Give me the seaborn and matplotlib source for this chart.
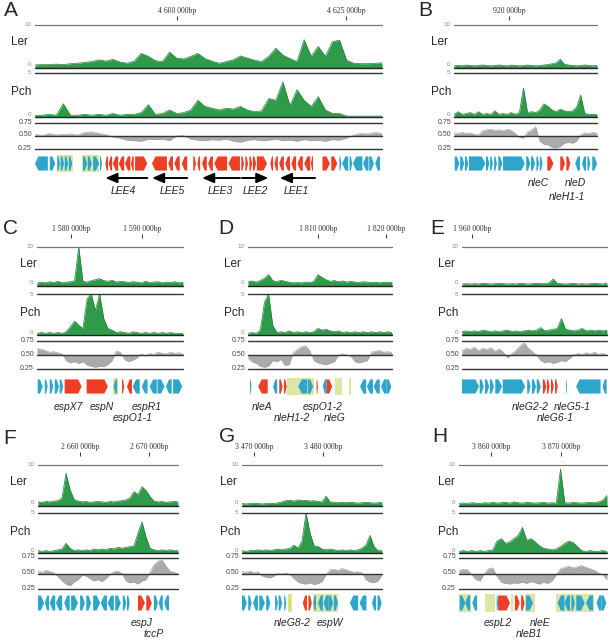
import numpy as np
import matplotlib
matplotlib.use('Agg')
import matplotlib.pyplot as plt
from matplotlib.patches import Polygon, Rectangle
from matplotlib.transforms import blended_transform_factory
import seaborn as sns

sns.set_style('white')
plt.rcParams['font.family'] = ['Liberation Sans', 'DejaVu Sans']

# ---------------- data (x in kb) ----------------
A_RANGE = (4579.0, 4630.3)
A_TICKS = [4600, 4625]
A_LER = [0.7, 0.8, 0.8, 0.9, 0.8, 1.0, 1.1, 1.3, 1.5, 1.9,
         1.6, 2.0, 1.4, 1.1, 1.6, 3.4, 2.7, 1.7, 1.5, 3.7,
         2.3, 2.1, 2.7, 3.4, 2.2, 1.6, 1.1, 1.5, 1.9, 2.8,
         2.3, 1.8, 1.5, 2.7, 4.6, 3.0, 2.2, 1.5, 6.6, 2.7,
         5.0, 2.7, 6.1, 6.5, 1.8, 1.1, 1.0, 1.0, 1.1, 1.2]
A_PCH = [0.2, 0.2, 0.3, 0.2, 1.5, 0.2, 0.2, 0.3, 0.2, 0.3,
         0.2, 0.4, 0.2, 0.3, 0.3, 0.5, 1.4, 0.3, 0.4, 0.8,
         0.4, 0.5, 0.8, 1.9, 1.2, 1.0, 0.8, 1.0, 0.9, 1.2,
         0.8, 0.6, 0.7, 2.1, 1.9, 4.0, 1.3, 3.1, 1.9, 1.2,
         2.3, 0.8, 0.4, 0.4, 0.1, 0.1, 0.1, 0.1, 0.1, 0.1]
A_GC = [0.53, 0.51, 0.55, 0.52, 0.53, 0.54, 0.52, 0.57, 0.58, 0.55,
        0.53, 0.48, 0.46, 0.42, 0.41, 0.40, 0.44, 0.43, 0.44, 0.41,
        0.50, 0.51, 0.44, 0.42, 0.41, 0.43, 0.42, 0.44, 0.40, 0.38,
        0.42, 0.43, 0.41, 0.42, 0.44, 0.41, 0.42, 0.40, 0.43, 0.41,
        0.42, 0.40, 0.43, 0.42, 0.46, 0.52, 0.55, 0.54, 0.57, 0.55]
A_GENES = [
    (4579.0, 4580.9, -1, 'b'), (4581.2, 4582.0, 1, 'b'),
    (4582.3, 4582.7, 1, 'b'), (4582.8, 4583.3, 1, 'b'), (4583.4, 4583.9, 1, 'b'), (4584.0, 4584.5, 1, 'b'),
    (4586.1, 4586.7, 1, 'b'), (4586.8, 4587.4, 1, 'b'), (4587.6, 4588.5, 1, 'b'), (4588.6, 4588.9, 1, 'b'),
    (4589.4, 4589.8, -1, 'r'), (4589.9, 4590.4, -1, 'r'), (4590.5, 4591.3, -1, 'r'), (4591.4, 4592.2, -1, 'r'),
    (4592.3, 4593.1, -1, 'r'), (4593.2, 4593.6, -1, 'r'), (4593.8, 4595.6, 1, 'r'),
    (4596.3, 4598.5, -1, 'r'), (4598.7, 4599.4, -1, 'r'), (4599.6, 4600.4, -1, 'r'), (4600.7, 4601.5, -1, 'r'),
    (4602.4, 4602.8, 1, 'r'), (4603.0, 4603.4, -1, 'r'), (4603.7, 4604.4, -1, 'r'), (4604.6, 4605.3, -1, 'r'),
    (4605.5, 4607.4, -1, 'r'), (4607.6, 4609.3, -1, 'r'),
    (4609.5, 4609.9, 1, 'r'), (4610.1, 4610.5, 1, 'r'), (4610.7, 4611.1, 1, 'r'), (4611.2, 4611.7, 1, 'r'),
    (4611.8, 4613.3, 1, 'r'),
    (4613.8, 4614.2, -1, 'r'), (4614.4, 4614.9, -1, 'r'), (4615.1, 4615.8, -1, 'r'), (4616.0, 4616.7, -1, 'r'),
    (4616.9, 4617.6, -1, 'r'), (4617.8, 4618.6, -1, 'r'), (4618.8, 4619.7, -1, 'r'), (4619.8, 4620.1, -1, 'r'),
    (4621.5, 4622.6, 1, 'r'), (4622.8, 4623.7, 1, 'r'),
    (4624.0, 4624.3, 1, 'b'), (4624.4, 4625.3, -1, 'b'), (4625.5, 4625.9, 1, 'b'), (4626.0, 4627.4, -1, 'b'),
    (4627.5, 4628.3, -1, 'b'), (4628.4, 4629.1, 1, 'b'), (4629.3, 4630.0, -1, 'b')]
A_BOXES = [(4582.2, 4584.6), (4586.0, 4588.5)]
A_LABELS = []
# operon arrows: name, tail, head
A_OPERONS = [('LEE4', 4595.6, 4589.4), ('LEE5', 4601.5, 4596.3), ('LEE3', 4609.3, 4603.7),
             ('LEE2', 4609.6, 4613.5), ('LEE1', 4620.4, 4615.2)]
A_OPERON_LABELS = [4592.0, 4599.3, 4606.4, 4611.5, 4617.6]

B_RANGE = (911.9, 932.9)
B_TICKS = [920]
B_LER = [0.5, 0.6, 0.5, 0.7, 0.6, 0.5, 0.6, 0.7, 0.6, 0.5, 0.6, 0.7, 0.6, 0.5, 0.7, 0.6, 0.5, 0.6,
         0.7, 0.6, 0.5, 0.6, 0.7, 0.8, 1.0, 1.2, 2.0, 0.9, 0.7, 0.6, 0.5, 0.6, 0.7, 0.6, 0.5, 0.6]
B_PCH = [0.3, 0.6, 0.3, 0.4, 0.5, 0.3, 0.6, 0.3, 0.4, 0.3, 0.7, 0.3, 0.4, 0.3, 0.5, 0.3, 0.5, 3.3,
         0.5, 0.6, 0.5, 0.8, 1.5, 1.2, 0.8, 0.6, 0.9, 0.7, 0.6, 0.7, 1.1, 2.5, 0.4, 0.3, 0.3, 0.3]
B_GC = [0.56, 0.55, 0.57, 0.55, 0.56, 0.53, 0.52, 0.60, 0.62, 0.63, 0.61, 0.62, 0.60, 0.63, 0.61, 0.55, 0.47, 0.46,
        0.58, 0.62, 0.68, 0.40, 0.34, 0.33, 0.28, 0.27, 0.30, 0.36, 0.38, 0.36, 0.40, 0.52, 0.56, 0.55, 0.57, 0.55]
B_GENES = [(912.0, 912.7, 1, 'b'), (912.8, 913.4, 1, 'b'), (913.5, 914.0, 1, 'b'), (914.1, 916.5, 1, 'b'),
           (916.6, 917.1, 1, 'b'), (917.2, 917.6, 1, 'b'), (917.8, 918.2, 1, 'b'), (918.4, 919.0, 1, 'b'),
           (919.1, 922.3, 1, 'b'), (922.5, 923.1, 1, 'b'), (923.2, 923.8, 1, 'b'), (924.0, 924.4, 1, 'b'),
           (924.5, 924.9, 1, 'b'), (925.6, 926.5, 1, 'r'), (927.5, 928.2, 1, 'r'), (928.4, 929.0, 1, 'r'),
           (929.7, 930.4, -1, 'b'), (930.7, 931.3, -1, 'b'), (931.5, 931.9, 1, 'b'), (932.2, 932.9, 1, 'b')]
B_BOXES = []
B_LABELS = [('nleC', 924.3, 0), ('nleD', 929.7, 0), ('nleH1-1', 928.5, 1)]

C_RANGE = (1575.2, 1595.8)
C_TICKS = [1580, 1590]
C_LER = [0.7, 1.0, 0.8, 1.1, 0.9, 1.2, 0.8, 1.0, 1.1, 1.3, 10.0, 1.2, 1.0, 1.4, 1.6, 1.9, 1.4, 1.2,
         1.5, 1.0, 1.2, 1.1, 0.9, 1.1, 1.0, 0.8, 1.2, 0.9, 1.0, 1.1, 0.8, 1.0, 0.9, 1.1, 0.8, 1.0]
C_PCH = [0.2, 0.3, 0.2, 0.3, 0.2, 0.3, 0.2, 0.4, 1.0, 1.7, 1.2, 0.8, 4.4, 5.0, 3.0, 5.0, 2.0, 0.8,
         0.6, 0.3, 0.4, 0.3, 0.2, 0.4, 0.3, 0.2, 0.3, 0.2, 0.3, 0.2, 0.3, 0.2, 0.3, 0.2, 0.2, 0.2]
C_GC = [0.62, 0.60, 0.58, 0.55, 0.56, 0.54, 0.52, 0.40, 0.36, 0.38, 0.35, 0.38, 0.32, 0.30, 0.28, 0.30, 0.29, 0.33,
        0.40, 0.57, 0.55, 0.42, 0.38, 0.41, 0.45, 0.52, 0.48, 0.53, 0.51, 0.55, 0.53, 0.52, 0.55, 0.53, 0.54, 0.52]
C_GENES = [(1575.3, 1576.0, 1, 'b'), (1576.3, 1576.7, 1, 'b'), (1577.0, 1577.5, 1, 'b'), (1577.7, 1578.3, 1, 'b'),
           (1578.4, 1578.9, 1, 'b'), (1579.1, 1581.5, 1, 'r'), (1582.2, 1585.2, 1, 'r'), (1586.0, 1586.5, -1, 'b'),
           (1587.2, 1587.5, 1, 'r'), (1587.9, 1588.6, -1, 'r'), (1588.7, 1589.7, -1, 'b'), (1590.0, 1590.8, -1, 'b'),
           (1591.1, 1592.1, -1, 'b'), (1592.2, 1593.2, 1, 'b'), (1593.4, 1594.2, -1, 'b'), (1594.4, 1595.7, 1, 'b')]
C_BOXES = [(1585.9, 1586.6)]
C_LABELS = [('espX7', 1579.6, 0), ('espN', 1584.4, 0), ('espR1', 1590.7, 0), ('espO1-1', 1588.7, 1)]

D_RANGE = (1799.7, 1820.9)
D_TICKS = [1810, 1820]
D_LER = [1.1, 1.3, 1.0, 1.4, 2.0, 2.9, 1.4, 1.1, 1.5, 1.2, 1.0, 0.8, 0.9, 0.8, 1.0, 0.9, 1.2, 2.9,
         2.2, 1.6, 1.2, 1.4, 1.1, 1.3, 1.0, 1.2, 1.0, 0.9, 1.1, 1.0, 0.9, 1.0, 0.8, 1.0, 0.9, 1.0]
D_PCH = [0.2, 0.3, 0.2, 0.6, 4.0, 5.0, 1.2, 0.3, 0.4, 0.3, 0.5, 0.3, 0.4, 0.3, 0.4, 0.3, 0.4, 0.8,
         0.6, 0.7, 0.5, 0.4, 0.5, 0.3, 0.4, 0.3, 0.4, 0.3, 0.4, 0.3, 0.4, 0.3, 0.4, 0.3, 0.4, 0.3]
D_GC = [0.45, 0.38, 0.35, 0.30, 0.28, 0.30, 0.40, 0.38, 0.42, 0.31, 0.33, 0.54, 0.60, 0.65, 0.66, 0.58, 0.40, 0.36,
        0.34, 0.33, 0.35, 0.38, 0.50, 0.52, 0.50, 0.48, 0.38, 0.36, 0.38, 0.40, 0.55, 0.57, 0.58, 0.55, 0.56, 0.54]
D_GENES = [(1800.0, 1800.2, 1, 'b'), (1801.2, 1802.6, -1, 'r'), (1803.4, 1804.0, -1, 'b'), (1804.3, 1804.8, 1, 'r'),
           (1805.0, 1805.4, 1, 'r'), (1807.1, 1808.4, -1, 'b'), (1808.5, 1809.3, 1, 'b'), (1809.8, 1810.0, 1, 'r'),
           (1810.7, 1811.3, -1, 'b'), (1811.3, 1812.1, 1, 'r'), (1816.2, 1817.1, -1, 'b'), (1817.2, 1818.1, -1, 'b'),
           (1818.2, 1819.1, -1, 'b'), (1819.3, 1820.1, -1, 'b'), (1820.1, 1820.8, 1, 'b')]
D_BOXES = [(1805.5, 1809.4), (1812.5, 1813.5), (1814.6, 1814.9)]
D_LABELS = [('nleA', 1801.8, 0), ('espO1-2', 1810.7, 0), ('nleH1-2', 1806.2, 1), ('nleG', 1812.5, 1)]

E_RANGE = (1958.5, 1979.85)
E_TICKS = [1960]
E_LER = [0.5, 0.6, 0.5, 0.6, 0.5, 0.7, 0.6, 0.5, 0.6, 0.7, 0.6, 0.5, 0.6, 0.5, 0.7, 0.6, 0.5, 0.6,
         0.7, 0.6, 0.6, 0.8, 1.8, 0.7, 0.6, 0.5, 0.6, 0.7, 0.5, 0.6, 0.5, 0.6, 0.7, 0.6, 0.5, 0.8]
E_PCH = [0.4, 0.5, 0.4, 0.5, 0.4, 0.6, 0.5, 0.4, 0.5, 0.4, 0.5, 0.6, 0.4, 0.5, 0.4, 0.5, 0.6, 0.5,
         0.6, 0.9, 0.5, 0.6, 0.7, 0.8, 2.0, 0.7, 0.6, 0.5, 0.6, 0.8, 0.5, 0.6, 0.5, 0.6, 0.5, 0.6]
E_GC = [0.58, 0.62, 0.60, 0.64, 0.58, 0.62, 0.60, 0.63, 0.57, 0.61, 0.55, 0.45, 0.52, 0.58, 0.66, 0.72, 0.62, 0.56,
        0.50, 0.40, 0.36, 0.38, 0.35, 0.37, 0.40, 0.38, 0.44, 0.50, 0.53, 0.51, 0.54, 0.52, 0.55, 0.51, 0.53, 0.50]
E_GENES = [(1958.5, 1961.0, 1, 'b'), (1961.1, 1961.7, 1, 'b'), (1961.9, 1962.5, 1, 'b'), (1962.6, 1963.2, 1, 'b'),
           (1963.4, 1964.4, 1, 'b'), (1964.5, 1967.8, 1, 'b'), (1968.1, 1968.6, 1, 'b'), (1968.8, 1969.4, 1, 'b'),
           (1969.5, 1970.1, 1, 'b'), (1970.4, 1970.9, 1, 'r'), (1971.0, 1971.4, 1, 'r'), (1971.6, 1972.0, 1, 'r'),
           (1972.2, 1972.6, 1, 'r'), (1973.8, 1973.95, 1, 'b'), (1975.3, 1978.9, -1, 'b'), (1979.2, 1979.8, -1, 'b')]
E_BOXES = []
E_LABELS = [('nleG2-2', 1968.6, 0), ('nleG5-1', 1974.7, 0), ('nleG6-1', 1972.3, 1)]

F_RANGE = (2653.9, 2674.2)
F_TICKS = [2660, 2670]
F_LER = [1.0, 0.9, 1.1, 1.0, 1.2, 1.3, 2.0, 8.0, 4.0, 1.6, 1.2, 1.0, 1.1, 0.9, 1.0, 1.1, 1.0, 0.9,
         1.1, 1.0, 1.2, 1.3, 1.5, 2.0, 3.5, 2.8, 4.7, 3.8, 2.3, 1.2, 1.0, 1.1, 0.9, 1.0, 1.1, 1.0]
F_PCH = [0.3, 0.2, 0.3, 0.2, 0.3, 0.4, 0.5, 1.2, 0.6, 0.3, 0.4, 0.3, 0.4, 0.3, 0.5, 0.4, 0.5, 0.4,
         0.6, 0.5, 0.7, 0.6, 0.7, 0.8, 0.9, 2.5, 3.9, 2.0, 0.6, 0.4, 0.3, 0.4, 0.3, 0.4, 0.3, 0.3]
F_GC = [0.54, 0.52, 0.55, 0.53, 0.51, 0.45, 0.38, 0.33, 0.30, 0.36, 0.40, 0.47, 0.46, 0.42, 0.38, 0.40, 0.37, 0.42,
        0.48, 0.53, 0.54, 0.50, 0.38, 0.35, 0.36, 0.33, 0.38, 0.40, 0.52, 0.64, 0.70, 0.72, 0.62, 0.54, 0.52, 0.50]
F_GENES = [(2653.9, 2654.8, 1, 'b'), (2654.9, 2655.5, -1, 'b'), (2655.6, 2656.4, -1, 'b'), (2656.5, 2657.4, -1, 'b'),
           (2657.7, 2658.5, -1, 'b'), (2658.7, 2659.7, 1, 'b'), (2660.0, 2660.7, 1, 'b'), (2660.9, 2661.6, 1, 'b'),
           (2661.9, 2662.9, 1, 'b'), (2663.0, 2663.9, -1, 'b'), (2664.0, 2664.9, -1, 'b'), (2665.1, 2665.9, 1, 'b'),
           (2666.2, 2666.7, 1, 'b'), (2666.8, 2667.2, 1, 'b'), (2668.4, 2669.4, 1, 'r'), (2669.6, 2670.4, 1, 'r'),
           (2670.7, 2671.3, 1, 'b'), (2671.4, 2672.0, -1, 'b'), (2672.2, 2672.9, -1, 'b')]
F_BOXES = []
F_LABELS = [('espJ', 2669.0, 0), ('tccP', 2670.7, 1)]

G_RANGE = (3468.3, 3488.55)
G_TICKS = [3470, 3480]
G_LER = [0.6, 0.5, 0.6, 0.7, 0.6, 0.5, 0.6, 0.7, 0.6, 0.8, 1.0, 1.3, 1.4, 1.2, 1.5, 1.3, 1.4, 1.2,
         1.3, 1.1, 1.0, 2.4, 1.0, 0.9, 0.8, 0.9, 0.8, 0.9, 0.8, 0.7, 0.8, 0.9, 0.8, 0.7, 0.8, 0.9]
G_PCH = [0.3, 0.2, 0.3, 0.3, 0.4, 0.3, 0.4, 0.3, 0.4, 0.5, 0.4, 0.5, 0.6, 1.0, 0.6, 1.5, 5.0, 2.5,
         0.9, 0.8, 0.5, 0.4, 0.5, 0.4, 0.3, 0.4, 0.3, 0.4, 0.3, 0.4, 0.6, 1.0, 2.2, 0.8, 0.3, 0.3]
G_GC = [0.53, 0.52, 0.54, 0.51, 0.53, 0.46, 0.44, 0.43, 0.46, 0.50, 0.49, 0.51, 0.48, 0.42, 0.36, 0.34, 0.33, 0.35,
        0.32, 0.34, 0.37, 0.48, 0.56, 0.57, 0.55, 0.58, 0.56, 0.54, 0.52, 0.53, 0.51, 0.40, 0.36, 0.35, 0.38, 0.48]
G_GENES = [(3468.3, 3469.0, 1, 'b'), (3469.2, 3469.7, 1, 'b'), (3469.9, 3470.6, -1, 'b'), (3470.8, 3471.6, 1, 'b'),
           (3471.8, 3472.4, 1, 'b'), (3473.1, 3473.5, 1, 'b'), (3473.6, 3474.1, 1, 'b'), (3474.4, 3474.7, 1, 'b'),
           (3475.05, 3475.35, 1, 'y'), (3477.1, 3477.7, -1, 'r'), (3477.9, 3478.4, 1, 'r'), (3478.6, 3479.0, -1, 'b'),
           (3479.3, 3480.0, -1, 'b'), (3480.1, 3480.8, -1, 'b'), (3480.8, 3481.5, 1, 'b'), (3481.6, 3482.2, 1, 'b'),
           (3483.9, 3485.1, -1, 'b'), (3485.3, 3486.3, -1, 'b'), (3487.1, 3487.7, -1, 'b'), (3487.9, 3488.5, 1, 'b')]
G_BOXES = [(3474.9, 3475.5), (3478.6, 3482.2)]
G_LABELS = [('nleG8-2', 3475.5, 0), ('espW', 3481.0, 0)]

H_RANGE = (3855.4, 3876.6)
H_TICKS = [3860, 3870]
H_LER = [0.6, 0.7, 0.6, 0.8, 0.7, 0.6, 0.8, 0.7, 0.9, 0.7, 0.8, 0.9, 0.7, 1.0, 0.8, 0.7, 0.9, 0.8,
         0.7, 0.8, 0.9, 0.7, 0.8, 0.7, 9.0, 0.8, 0.7, 0.9, 0.8, 0.7, 0.8, 0.9, 0.8, 1.0, 1.4, 2.6]
H_PCH = [0.2, 0.3, 0.2, 0.3, 0.2, 0.3, 0.2, 0.3, 0.4, 1.5, 1.8, 1.2, 1.4, 1.8, 2.2, 3.2, 1.6, 1.8,
         1.4, 0.9, 0.6, 0.5, 0.4, 0.5, 0.8, 1.2, 1.5, 1.3, 0.8, 0.3, 0.2, 0.3, 0.2, 0.2, 0.3, 0.2]
H_GC = [0.55, 0.57, 0.56, 0.48, 0.40, 0.38, 0.50, 0.58, 0.59, 0.45, 0.36, 0.34, 0.33, 0.35, 0.34, 0.36, 0.34, 0.37,
        0.35, 0.33, 0.36, 0.34, 0.38, 0.48, 0.58, 0.60, 0.62, 0.59, 0.61, 0.63, 0.60, 0.58, 0.55, 0.51, 0.48, 0.40]
H_GENES = [(3855.5, 3856.3, 1, 'b'), (3856.3, 3857.0, -1, 'b'), (3857.3, 3858.0, -1, 'b'), (3860.8, 3861.0, 1, 'b'),
           (3861.0, 3862.7, 1, 'r'), (3863.4, 3864.1, 1, 'r'), (3864.3, 3864.8, 1, 'r'), (3865.0, 3866.0, 1, 'b'),
           (3869.5, 3870.5, -1, 'b'), (3870.5, 3871.3, -1, 'b'), (3871.5, 3872.0, 1, 'b'), (3872.2, 3873.4, 1, 'b'),
           (3873.6, 3874.6, -1, 'b'), (3875.1, 3875.8, -1, 'b'), (3875.8, 3876.5, 1, 'b')]
H_BOXES = [(3855.4, 3857.1), (3859.1, 3860.5), (3862.8, 3863.2), (3864.8, 3866.3), (3869.3, 3874.8)]
H_LABELS = [('espL2', 3861.0, 0), ('nleE', 3867.0, 0), ('nleB1', 3865.5, 1)]

# ---------------- layout (pixels) ----------------
W, H = 610, 640
GREEN = '#2e9a4a'
GREEN_EDGE = '#1f7f37'
GREY = '#ababab'
GENE_COL = {'b': '#2ea5cb', 'r': '#ec3f26', 'y': '#e3dc3a'}
BOX_COL = '#dce7a3'

ROWS = [
    dict(tick=(16, 20), top10=25, ler0=68, top5=73, pch0=117, gc75=123, gc25=149, g0=157, g1=170, lab=(183, 197)),
    dict(tick=(234, 238), top10=247, ler0=286, top5=294, pch0=335, gc75=341, gc25=369, g0=380, g1=393, lab=(407, 418)),
    dict(tick=(452, 456), top10=465, ler0=506, top5=513, pch0=553, gc75=558, gc25=589, g0=596, g1=610, lab=(623, 634)),
]

PANELS = [
    ('A', 0, 35, 382, (4, 11), 11, A_RANGE, A_TICKS, A_LER, A_PCH, A_GC, A_GENES, A_BOXES, A_LABELS),
    ('B', 0, 454, 597, (418, 11), 431, B_RANGE, B_TICKS, B_LER, B_PCH, B_GC, B_GENES, B_BOXES, B_LABELS),
    ('C', 1, 37, 183, (3, 229), 20, C_RANGE, C_TICKS, C_LER, C_PCH, C_GC, C_GENES, C_BOXES, C_LABELS),
    ('D', 1, 248, 392, (218, 229), 224, D_RANGE, D_TICKS, D_LER, D_PCH, D_GC, D_GENES, D_BOXES, D_LABELS),
    ('E', 1, 462, 607, (430, 229), 438, E_RANGE, E_TICKS, E_LER, E_PCH, E_GC, E_GENES, E_BOXES, E_LABELS),
    ('F', 2, 38, 178, (3, 438), 10, F_RANGE, F_TICKS, F_LER, F_PCH, F_GC, F_GENES, F_BOXES, F_LABELS),
    ('G', 2, 242, 382, (219, 436), 220, G_RANGE, G_TICKS, G_LER, G_PCH, G_GC, G_GENES, G_BOXES, G_LABELS),
    ('H', 2, 459, 607, (432, 436), 438, H_RANGE, H_TICKS, H_LER, H_PCH, H_GC, H_GENES, H_BOXES, H_LABELS),
]

fig = plt.figure(figsize=(W / 100, H / 100), dpi=100)


def add_ax(x0, x1, ytop, ybot):
    ax = fig.add_axes([x0 / W, 1 - ybot / H, (x1 - x0) / W, (ybot - ytop) / H])
    ax.patch.set_alpha(0)
    return ax


def ftext(x, y, s, **kw):
    fig.text(x / W, 1 - y / H, s, **kw)


def bp_label(t):
    return f"{int(t * 1000):,}".replace(',', ' ') + 'bp'


def coverage(ax, xr, vals, top):
    xs = np.linspace(xr[0], xr[1], len(vals))
    vals = np.minimum(np.array(vals), top)
    ax.fill_between(xs, 0, vals, color=GREEN, lw=0)
    sns.lineplot(x=xs, y=vals, ax=ax, color=GREEN_EDGE, linewidth=0.5, estimator=None, legend=False)
    ax.set_xlim(xr)
    ax.set_ylim(0, top)
    ax.axis('off')


def draw_panel(letter, row, x0, x1, lxy, name_x, xr, ticks, ler, pch, gc, genes, boxes, labels):
    r = ROWS[row]
    ftext(lxy[0], lxy[1], letter, fontsize=15, ha='left', va='center')

    # coordinate ruler
    ax = add_ax(x0, x1, *r['tick'])
    ax.set_xlim(xr)
    ax.set_xticks(ticks)
    ax.set_xticklabels([bp_label(t) for t in ticks])
    ax.set_yticks([])
    for s in ax.spines.values():
        s.set_visible(False)
    ax.tick_params(axis='x', top=True, bottom=False, labeltop=True, labelbottom=False,
                   direction='in', length=3, width=0.7, pad=1, labelsize=5.6, colors='#333333')
    for t in ax.get_xticklabels():
        t.set_family('Liberation Serif')

    # Ler coverage
    ax = add_ax(x0, x1, r['top10'], r['ler0'])
    coverage(ax, xr, ler, 10)
    ax.axhline(10, color='#777777', lw=0.9, clip_on=False)
    ax.axhline(0, color='#222222', lw=1.0, clip_on=False)
    ftext(x0 - 4, r['top10'], '10', ha='right', va='center', fontsize=4.5, color='#888888')
    ftext(x0 - 4, r['ler0'] - 3, '0', ha='right', va='center', fontsize=4.5, color='#888888')
    ftext(name_x, r['top10'] + 17, 'Ler', ha='left', va='center', fontsize=8.5)

    # Pch coverage
    ax = add_ax(x0, x1, r['top5'], r['pch0'])
    coverage(ax, xr, pch, 5)
    ax.axhline(5, color='#333333', lw=1.0, clip_on=False)
    ax.axhline(0, color='#222222', lw=1.0, clip_on=False)
    ftext(x0 - 4, r['top5'], '5', ha='right', va='center', fontsize=4.5, color='#888888')
    ftext(x0 - 4, r['pch0'] - 3, '0', ha='right', va='center', fontsize=4.5, color='#888888')
    ftext(name_x, r['top5'] + 19, 'Pch', ha='left', va='center', fontsize=8.5)

    # GC content
    ax = add_ax(x0, x1, r['gc75'], r['gc25'])
    xs = np.linspace(xr[0], xr[1], len(gc))
    ax.fill_between(xs, 0.5, gc, color=GREY, lw=0)
    sns.lineplot(x=xs, y=gc, ax=ax, color='#a0a0a0', linewidth=0.4, estimator=None, legend=False)
    ax.set_xlim(xr)
    ax.set_ylim(0.25, 0.75)
    ax.axis('off')
    for v in (0.75, 0.5, 0.25):
        ax.axhline(v, color='#333333', lw=1.0, clip_on=False)
    gc_y = {0.75: r['gc75'], 0.5: (r['gc75'] + r['gc25']) / 2, 0.25: r['gc25']}
    for v, y in gc_y.items():
        ftext(x0 - 3, y - 1, f'{v:.2f}', ha='right', va='center', fontsize=5, color='#444444')

    # genes
    ax = add_ax(x0, x1, r['g0'] - 2, r['g1'] + 2)
    ax.set_xlim(xr)
    ax.set_ylim(-0.6, 0.6)
    ax.axis('off')
    head = 3.5 * (xr[1] - xr[0]) / (x1 - x0)
    for s, e in boxes:
        ax.add_patch(Rectangle((s, -0.6), e - s, 1.2, color=BOX_COL, lw=0, zorder=1))
    for s, e, strand, col in genes:
        h = min(head, (e - s) * 0.55)
        hh = 0.5
        if strand > 0:
            pts = [(s, -hh), (e - h, -hh), (e, 0), (e - h, hh), (s, hh)]
        else:
            pts = [(e, -hh), (s + h, -hh), (s, 0), (s + h, hh), (e, hh)]
        ax.add_patch(Polygon(pts, closed=True, facecolor=GENE_COL[col], edgecolor='none', zorder=2))
    tr = blended_transform_factory(ax.transData, fig.transFigure)
    for name, x, line in labels:
        y = r['lab'][line]
        ax.text(x, 1 - y / H, name, transform=tr, ha='center', va='center',
                fontsize=7.5, style='italic', clip_on=False)
    return ax


axes = {}
for p in PANELS:
    axes[p[0]] = draw_panel(*p)

# LEE operon arrows in panel A
gax = axes['A']
tr = blended_transform_factory(gax.transData, fig.transFigure)
for (name, tail, tip), lx in zip(A_OPERONS, A_OPERON_LABELS):
    gax.annotate('', xy=(tip, 1 - 178 / H), xytext=(tail, 1 - 178 / H), xycoords=tr, textcoords=tr,
                 arrowprops=dict(arrowstyle='-|>,head_length=0.7,head_width=0.3', color='black',
                                 lw=1.4, shrinkA=0, shrinkB=0))
    gax.text(lx, 1 - 191 / H, name, transform=tr, ha='center', va='center',
             fontsize=7.5, style='italic')

fig.savefig('out.png', dpi=100)
